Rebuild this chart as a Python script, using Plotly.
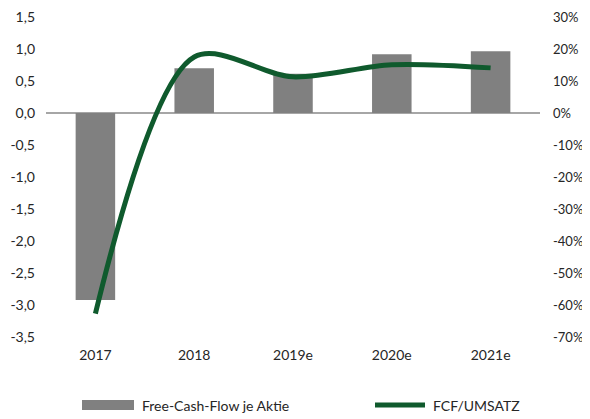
import plotly.graph_objects as go

categories = ["2017", "2018", "2019e", "2020e", "2021e"]
fcf_per_share = [-2.92, 0.70, 0.615, 0.917, 0.965]
fcf_to_sales = [-0.627, 0.175, 0.113, 0.151, 0.141]

left_ticks = [1.5, 1.0, 0.5, 0.0, -0.5, -1.0, -1.5, -2.0, -2.5, -3.0, -3.5]
left_tick_text = ["1,5", "1,0", "0,5", "0,0", "-0,5", "-1,0", "-1,5", "-2,0", "-2,5", "-3,0", "-3,5"]
right_ticks = [0.3, 0.2, 0.1, 0.0, -0.1, -0.2, -0.3, -0.4, -0.5, -0.6, -0.7]
right_tick_text = ["30%", "20%", "10%", "0%", "-10%", "-20%", "-30%", "-40%", "-50%", "-60%", "-70%"]

bar_name = "Free-Cash-Flow je Aktie"
line_name = "FCF/UMSATZ"

BAR_COLOR = "#808080"
LINE_COLOR = "#0F5A2D"
TEXT_COLOR = "#262626"
FONT = "Lato"

fig = go.Figure()
fig.add_trace(go.Bar(x=categories, y=fcf_per_share, name=bar_name,
                     marker=dict(color=BAR_COLOR, line=dict(width=0)),
                     yaxis="y", showlegend=False))
fig.add_trace(go.Scatter(x=categories, y=fcf_to_sales, name=line_name, mode="lines",
                         line=dict(color=LINE_COLOR, width=5, shape="spline", smoothing=0.9),
                         yaxis="y2", showlegend=False))

fig.update_layout(
    width=582, height=411,
    margin=dict(l=38, r=50, t=9, b=82),
    paper_bgcolor="white", plot_bgcolor="white",
    font=dict(family=FONT, size=14, color=TEXT_COLOR),
    bargap=0.6,
    xaxis=dict(showgrid=False, showline=False, ticks="", ticklabelstandoff=8,
               tickfont=dict(size=14), automargin=False),
    yaxis=dict(range=[-3.5, 1.5], tickvals=left_ticks, ticktext=left_tick_text,
               showgrid=False, showline=False, zeroline=True, zerolinecolor="#A6A6A6",
               zerolinewidth=2, ticks="", ticklabelstandoff=10, ticklabeloverflow="allow",
               automargin=False),
    yaxis2=dict(range=[-0.7, 0.3], tickvals=right_ticks, ticktext=right_tick_text,
                overlaying="y", side="right", showgrid=False, showline=False,
                zeroline=False, ticks="", ticklabelstandoff=12, ticklabeloverflow="allow",
                automargin=False, tickfont=dict(size=13)),
    showlegend=False,
)

# manual legend (positions relative to plot area)
fig.add_shape(type="rect", xref="paper", yref="paper",
              x0=(82 - 46) / 494, x1=(134 - 46) / 494,
              y0=(337 - 410) / 320, y1=(337 - 400) / 320,
              fillcolor=BAR_COLOR, line=dict(width=0))
fig.add_annotation(xref="paper", yref="paper", x=(140 - 46) / 494, y=(337 - 405) / 320,
                   text=bar_name, showarrow=False, xanchor="left", yanchor="middle",
                   font=dict(size=14, color=TEXT_COLOR))
fig.add_shape(type="line", xref="paper", yref="paper",
              x0=(375 - 46) / 494, x1=(425 - 46) / 494,
              y0=(337 - 405) / 320, y1=(337 - 405) / 320,
              line=dict(color=LINE_COLOR, width=5))
fig.add_annotation(xref="paper", yref="paper", x=(431 - 46) / 494, y=(337 - 405) / 320,
                   text=line_name, showarrow=False, xanchor="left", yanchor="middle",
                   font=dict(size=14, color=TEXT_COLOR))

fig.write_html("out.html")
